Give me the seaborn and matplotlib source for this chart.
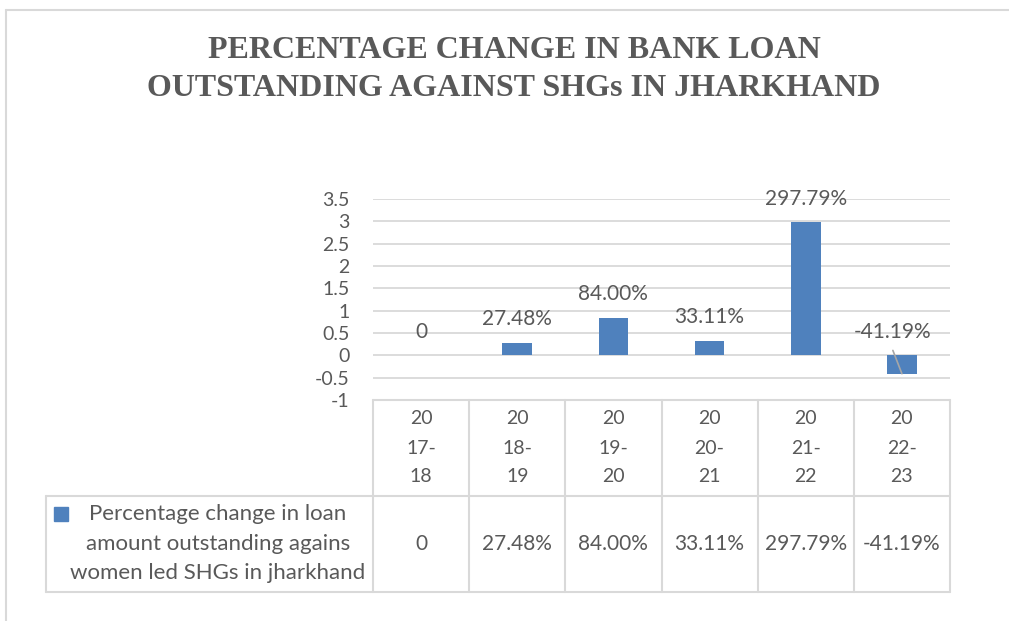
import numpy as np
import pandas as pd
import seaborn as sns
import matplotlib
matplotlib.use("Agg")
import matplotlib.pyplot as plt
from matplotlib.transforms import blended_transform_factory
from matplotlib.lines import Line2D
from matplotlib.patches import Rectangle

# ---- data ----
categories = ["2017-18", "2018-19", "2019-20", "2020-21", "2021-22", "2022-23"]
values = [0, 0.2748, 0.84, 0.3311, 2.9779, -0.4119]
value_labels = ["0", "27.48%", "84.00%", "33.11%", "297.79%", "-41.19%"]
series_name_lines = ["Percentage change in loan",
                     "amount outstanding agains",
                     "women led SHGs in jharkhand"]
title_lines = ["PERCENTAGE CHANGE IN BANK LOAN",
               "OUTSTANDING AGAINST SHGs IN JHARKHAND"]
yticks = [-1, -0.5, 0, 0.5, 1, 1.5, 2, 2.5, 3, 3.5]
ytick_labels = ["-1", "-0.5", "0", "0.5", "1", "1.5", "2", "2.5", "3", "3.5"]

# ---- style ----
sns.set_theme(style="white")
plt.rcParams['font.family'] = ['Lato', 'DejaVu Sans']
TXT = "#595959"
GRID = "#D9D9D9"
BAR = "#4F81BD"
FS = 14        # digits-only text
FS_PCT = 15    # percentage labels
FS_TXT = 16    # series name text

W, H = 1009, 621
fig = plt.figure(figsize=(W / 100, H / 100), dpi=100)
fig.patch.set_facecolor("white")


def fx(x):
    return x / W


def fy(y):
    return 1 - y / H


# outer chart border
fig.add_artist(Line2D([fx(5.5), fx(5.5)], [fy(10), fy(621)], color=GRID, lw=1.5, transform=fig.transFigure))
fig.add_artist(Line2D([fx(5.5), fx(1009)], [fy(10), fy(10)], color=GRID, lw=1.5, transform=fig.transFigure))

# title
for t, yy in zip(title_lines, [51, 88]):
    fig.text(fx(514), fy(yy), t, ha="center", va="center", color=TXT,
             family="Liberation Serif", weight="bold", fontsize=23)

# axes
ax = fig.add_axes([fx(373), fy(400), fx(950) - fx(373), fy(199) - fy(400)])
df = pd.DataFrame({"period": categories, "value": values})
sns.barplot(data=df, x="period", y="value", color=BAR, width=0.31,
            saturation=1, linewidth=0, ax=ax, zorder=3)
ax.set_xlim(-0.5, 5.5)
ax.set_ylim(-1, 3.5)
ax.set_yticks(yticks)
ax.set_yticklabels(ytick_labels)
ax.yaxis.grid(True, color=GRID, lw=1.3)
ax.xaxis.grid(False)
ax.set_axisbelow(True)
for s in ax.spines.values():
    s.set_visible(False)
ax.tick_params(axis="y", length=0, pad=17, labelsize=FS, labelcolor=TXT)
ax.tick_params(axis="x", length=0, labelbottom=False)
ax.set_xlabel("")
ax.set_ylabel("")
ax.patch.set_alpha(0)

# data labels
for i, (v, lab) in enumerate(zip(values, value_labels)):
    if v >= 0:
        ax.annotate(lab, (i, v), xytext=(0, 17), textcoords="offset points",
                    ha="center", va="center", fontsize=FS_PCT, color=TXT)
    else:
        ax.annotate(lab, (i - 0.094, 0), xytext=(0, 17), textcoords="offset points",
                    ha="center", va="center", fontsize=FS_PCT, color=TXT)
        ax.plot([i - 0.094, i], [0.11, v], color="#A6A6A6", lw=1.2, zorder=4)

# data table
bt = blended_transform_factory(ax.transData, fig.transFigure)
n = len(categories)
fig.add_artist(Line2D([fx(373), fx(950)], [fy(400), fy(400)], color=GRID, lw=1.5, transform=fig.transFigure))
for yy in [496, 592]:
    fig.add_artist(Line2D([fx(46), fx(950)], [fy(yy), fy(yy)], color=GRID, lw=1.5, transform=fig.transFigure))
fig.add_artist(Line2D([fx(46), fx(46)], [fy(496), fy(592)], color=GRID, lw=1.5, transform=fig.transFigure))
for b in range(n + 1):
    fig.add_artist(Line2D([b - 0.5, b - 0.5], [fy(400), fy(592)], color=GRID, lw=1.5, transform=bt))

for i, c in enumerate(categories):
    parts = [c[:2], c[2:5], c[5:]]
    for p, yy in zip(parts, [419, 448, 477]):
        fig.text(i, fy(yy), p, transform=bt, ha="center", va="center", fontsize=FS, color=TXT)
    fig.text(i, fy(544), value_labels[i], transform=bt, ha="center", va="center", fontsize=FS_PCT, color=TXT)

# legend key + series name
fig.add_artist(Rectangle((fx(54), fy(521)), fx(14), 14 / H, color=BAR, transform=fig.transFigure))
for line, yy in zip(series_name_lines, [514, 544, 573]):
    fig.text(fx(218), fy(yy), line, ha="center", va="center", fontsize=FS_TXT, color=TXT)

fig.savefig("out.png", dpi=100, facecolor="white")
